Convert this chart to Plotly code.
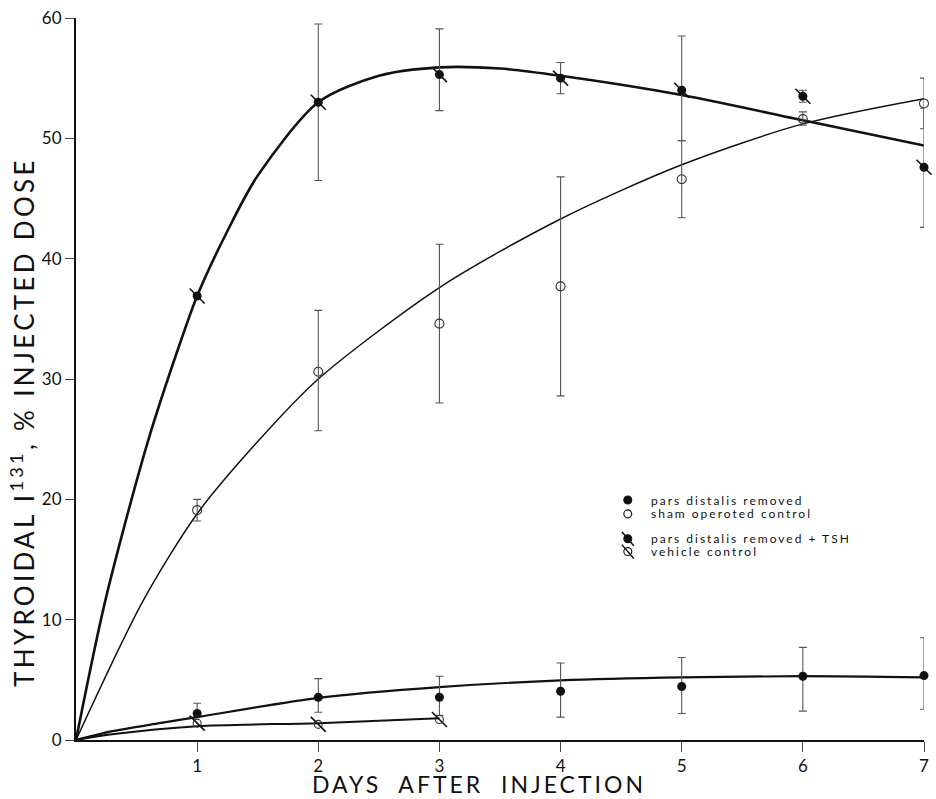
import plotly.graph_objects as go

# ---- measured points -------------------------------------------------------
days = [1, 2, 3, 4, 5, 6, 7]

# pars distalis removed + TSH
tsh_y = [36.9, 53.0, 55.3, 55.0, 54.0, 53.5, 47.6]
tsh_up = [0.0, 6.5, 3.8, 1.3, 4.5, 0.5, 4.9]
tsh_dn = [0.0, 6.5, 3.0, 1.3, 4.2, 0.5, 5.0]

# sham operated control
sham_y = [19.1, 30.6, 34.6, 37.7, 46.6, 51.6, 52.9]
sham_up = [0.9, 5.1, 6.6, 9.1, 3.2, 0.6, 2.1]
sham_dn = [0.9, 4.9, 6.6, 9.1, 3.2, 0.5, 2.1]

# pars distalis removed
pdr_y = [2.2, 3.55, 3.55, 4.05, 4.45, 5.3, 5.35]
pdr_up = [0.85, 1.55, 1.75, 2.35, 2.4, 2.4, 3.15]
pdr_dn = [0.0, 1.25, 1.5, 2.15, 2.25, 2.9, 2.8]

# vehicle control (first three days only)
veh_days = [1, 2, 3]
veh_y = [1.4, 1.3, 1.7]

# ---- hand-fitted curves ----------------------------------------------------
tsh_curve_x = [0, 0.24, 0.59, 0.87, 1, 1.25, 1.5, 2, 2.5, 3, 3.5, 4, 5, 6, 7]
tsh_curve_y = [0, 11.5, 24.7, 33.3, 36.9, 42.3, 46.9, 53.0, 55.2, 55.9, 55.8, 55.2, 53.6, 51.5, 49.4]

sham_curve_x = [0, 0.55, 1, 1.5, 2, 3, 4, 5, 6, 7]
sham_curve_y = [0, 11.5, 18.8, 24.8, 30.0, 37.6, 43.3, 47.8, 51.2, 53.3]

pdr_curve_x = [0, 0.28, 0.69, 1, 2, 3, 4, 5, 6, 7]
pdr_curve_y = [0, 0.7, 1.4, 1.9, 3.5, 4.4, 4.95, 5.2, 5.3, 5.2]

veh_curve_x = [0, 0.28, 1, 2, 3]
veh_curve_y = [0, 0.45, 1.15, 1.4, 1.8]

x_ticks = [1, 2, 3, 4, 5, 6, 7]
y_ticks = [0, 10, 20, 30, 40, 50, 60]

legend_labels = [
    "pars distalis removed",
    "sham operoted control",
    "pars distalis removed + TSH",
    "vehicle control",
]

FONT = "Lato"
INK = "#111111"
BAR = "#555555"


def spaced(text, px):
    return '<span style="letter-spacing:%.1fpx">%s</span>' % (px, text)


fig = go.Figure()

# curves
fig.add_trace(go.Scatter(x=tsh_curve_x, y=tsh_curve_y, mode="lines",
                         line=dict(color=INK, width=2.6, shape="spline", smoothing=0.8),
                         hoverinfo="skip"))
fig.add_trace(go.Scatter(x=sham_curve_x, y=sham_curve_y, mode="lines",
                         line=dict(color=INK, width=1.5, shape="spline", smoothing=0.8),
                         hoverinfo="skip"))
fig.add_trace(go.Scatter(x=pdr_curve_x, y=pdr_curve_y, mode="lines",
                         line=dict(color=INK, width=2.2, shape="spline", smoothing=0.8),
                         hoverinfo="skip"))
fig.add_trace(go.Scatter(x=veh_curve_x, y=veh_curve_y, mode="lines",
                         line=dict(color=INK, width=2.0, shape="spline", smoothing=0.8),
                         hoverinfo="skip"))


def err(up, dn):
    return dict(type="data", symmetric=False, array=up, arrayminus=dn,
                color=BAR, thickness=1.1, width=4)


# sham: open circles
fig.add_trace(go.Scatter(x=days, y=sham_y, mode="markers", name=legend_labels[1],
                         error_y=err(sham_up, sham_dn), cliponaxis=False,
                         marker=dict(symbol="circle-open", size=9,
                                     color="#333333", line=dict(width=1.1))))
# pars distalis removed: filled circles
fig.add_trace(go.Scatter(x=days, y=pdr_y, mode="markers", name=legend_labels[0],
                         error_y=err(pdr_up, pdr_dn), cliponaxis=False,
                         marker=dict(symbol="circle", size=9, color=INK)))
# pars distalis removed + TSH: filled circles crossed by a slash
fig.add_trace(go.Scatter(x=days, y=tsh_y, mode="markers", name=legend_labels[2],
                         error_y=err(tsh_up, tsh_dn), cliponaxis=False,
                         marker=dict(symbol="circle", size=9, color=INK)))
fig.add_trace(go.Scatter(x=days, y=tsh_y, mode="markers", cliponaxis=False,
                         hoverinfo="skip",
                         marker=dict(symbol="line-nw", size=15,
                                     line=dict(width=1.6, color=INK))))
# vehicle control: open circles crossed by a slash
fig.add_trace(go.Scatter(x=veh_days, y=veh_y, mode="markers", name=legend_labels[3],
                         cliponaxis=False,
                         marker=dict(symbol="circle-open", size=8,
                                     color="#333333", line=dict(width=1.1))))
fig.add_trace(go.Scatter(x=veh_days, y=veh_y, mode="markers", cliponaxis=False,
                         hoverinfo="skip",
                         marker=dict(symbol="line-nw", size=15,
                                     line=dict(width=1.6, color=INK))))

# ---- hand-drawn key inside the plot ----------------------------------------
PW, PH = 853.0, 728.0  # plot area in pixels
kx = 0.6507
key_rows = [0.3324, 0.3132, 0.2788, 0.2610]
filled = [True, False, True, False]
slashed = [False, False, True, True]
shapes = []
annotations = []
for row, lab, fil, sl in zip(key_rows, legend_labels, filled, slashed):
    r = 4.0
    shapes.append(dict(type="circle", xref="paper", yref="paper",
                       x0=kx - r / PW, x1=kx + r / PW,
                       y0=row - r / PH, y1=row + r / PH,
                       fillcolor=INK if fil else "white",
                       line=dict(color=INK, width=1.1)))
    if sl:
        shapes.append(dict(type="line", xref="paper", yref="paper",
                           x0=kx - 6 / PW, x1=kx + 6 / PW,
                           y0=row + 7 / PH, y1=row - 7 / PH,
                           line=dict(color=INK, width=1.5)))
    annotations.append(dict(text=spaced(lab, 2.0), xref="paper", yref="paper",
                            x=kx + 21 / PW, y=row, xanchor="left", yanchor="middle",
                            showarrow=False,
                            font=dict(family=FONT, size=12, color=INK)))

# axis titles
annotations.append(dict(text=spaced("DAYS  AFTER  INJECTION", 3.0),
                        xref="paper", yref="paper",
                        x=0.475, y=-0.061, xanchor="center", yanchor="middle",
                        showarrow=False, font=dict(family=FONT, size=23, color=INK)))
annotations.append(dict(text=spaced("THYROIDAL I<sup>131</sup>, % INJECTED DOSE", 3.3),
                        xref="paper", yref="paper", textangle=-90,
                        x=-0.063, y=0.44, xanchor="center", yanchor="middle",
                        showarrow=False, font=dict(family=FONT, size=26, color=INK)))

fig.update_layout(
    width=936, height=799,
    margin=dict(l=76, r=7, t=12, b=59),
    paper_bgcolor="white", plot_bgcolor="white",
    showlegend=False,
    shapes=shapes, annotations=annotations,
    font=dict(family=FONT, color=INK),
)
fig.update_xaxes(range=[0, 7], tickvals=x_ticks, ticktext=[str(t) for t in x_ticks],
                 showgrid=False, zeroline=False, showline=True, linecolor=INK,
                 linewidth=2, ticks="outside", ticklen=10, tickwidth=1,
                 tickcolor="#444444", tickfont=dict(family=FONT, size=17, color=INK))
fig.update_yaxes(range=[0, 60], tickvals=y_ticks, ticktext=[str(t) for t in y_ticks],
                 showgrid=False, zeroline=False, showline=True, linecolor=INK,
                 linewidth=2, ticks="outside", ticklen=9, tickwidth=1,
                 tickcolor="#444444", tickfont=dict(family=FONT, size=17, color=INK))

fig.write_html("out.html")
